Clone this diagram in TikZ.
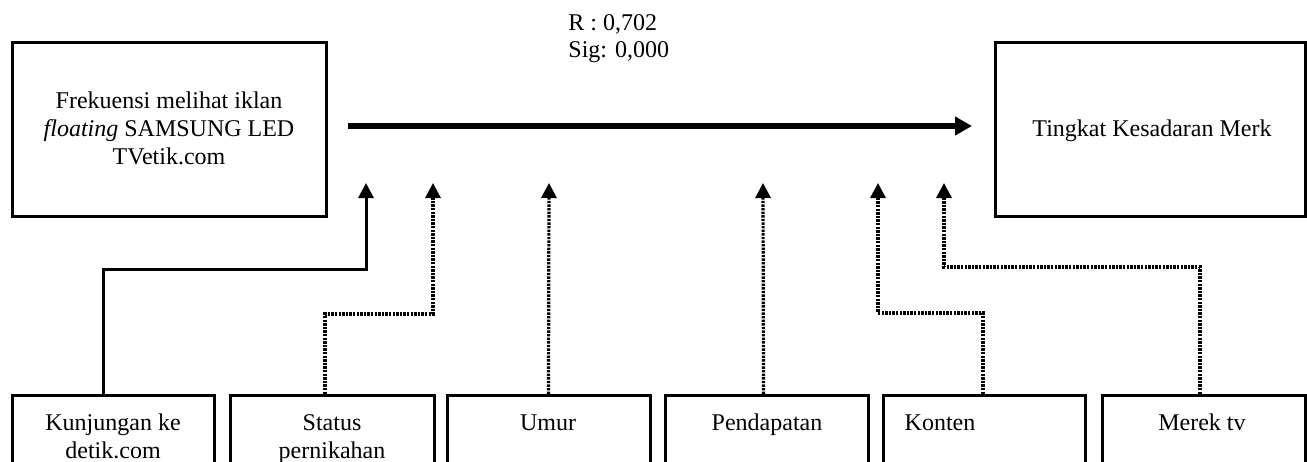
\documentclass[tikz,border=0pt]{standalone}
\usepackage{fontspec}
\setmainfont{Liberation Serif}
\usetikzlibrary{arrows.meta,calc}
\begin{document}
\begin{tikzpicture}[x=0.5pt,y=-0.5pt,
  box/.style={draw,line width=1.5pt,inner sep=0pt},
  txt/.style={font=\fontsize{12}{14}\selectfont,align=center,inner sep=0pt},
  solidconn/.style={line width=1.5pt,-{Triangle[length=7.5pt,width=7.5pt]}},
  dotconn/.style={line width=1.6pt,dash pattern=on 1.2pt off 0.6pt,-{Triangle[length=7.5pt,width=7.5pt]}},
  mainarrow/.style={line width=3pt,-{Triangle[length=8.5pt,width=9pt]}}]
\useasboundingbox (0,0) rectangle (1307,461);
\begin{scope}
\clip (0,0) rectangle (1307,461);
% top boxes
\node[box,minimum width=157pt,minimum height=87pt] (L) at (169,129) {};
\node[box,minimum width=155pt,minimum height=87pt] (R) at (1150,129) {};
\node[txt] (Lt) at (169,128) {Frekuensi melihat iklan\\\textit{floating} SAMSUNG LED\\TVetik.com};
\node[txt] (Rt) at (1152,131) {Tingkat Kesadaran Merk};
\node[txt,align=left,anchor=base west,font=\fontsize{12}{13.5}\selectfont] (stat) at (568,57) {R : 0,702\\Sig: 0,000};
% main arrow
\coordinate (ms) at (348,126);
\coordinate (me) at (972,126);
\draw[mainarrow] (ms) -- (me);
% bottom boxes
\node[box,anchor=north,minimum width=101pt,minimum height=50pt] (b1) at (113,394) {};
\node[box,anchor=north,minimum width=102pt,minimum height=50pt] (b2) at (332,394) {};
\node[box,anchor=north,minimum width=101.5pt,minimum height=50pt] (b3) at (548.5,394) {};
\node[box,anchor=north,minimum width=101.5pt,minimum height=50pt] (b4) at (766.5,394) {};
\node[box,anchor=north,minimum width=101pt,minimum height=50pt] (b5) at (984,394) {};
\node[box,anchor=north,minimum width=101.5pt,minimum height=50pt] (b6) at (1203.5,394) {};
\node[txt,anchor=base] (b1t) at (113,458) {Kunjungan ke\\detik.com};
\node[txt,anchor=base] (b2t) at (332,458) {Status\\pernikahan};
\node[txt,anchor=base] (b3t) at (548,430) {Umur};
\node[txt,anchor=base] (b4t) at (767,430) {Pendapatan};
\node[txt,anchor=base] (b5t) at (940,430) {Konten};
\node[txt,anchor=base] (b6t) at (1202,430) {Merek tv};
% arrow tips
\coordinate (t1) at (366,183);
\coordinate (t2) at (433,183);
\coordinate (t3) at (549,183);
\coordinate (t4) at (763,183);
\coordinate (t5) at (878,183);
\coordinate (t6) at (944,183);
% elbows
\coordinate (j1) at (366,269);
\coordinate (j2) at (433,314);
\coordinate (j5) at (878,313);
\coordinate (j6) at (944,267);
% connectors
\draw[solidconn] ([xshift=-5pt]b1.north) |- (j1) -- (t1);
\draw[dotconn] ([xshift=-3.5pt]b2.north) |- (j2) -- (t2);
\draw[dotconn] (b3.north) -- (t3);
\draw[dotconn] ([xshift=-1.5pt]b4.north) -- (t4);
\draw[dotconn] ([xshift=-0.5pt]b5.north) |- (j5) -- (t5);
\draw[dotconn] ([xshift=-1.75pt]b6.north) |- (j6) -- (t6);
\end{scope}
\end{tikzpicture}
\end{document}
